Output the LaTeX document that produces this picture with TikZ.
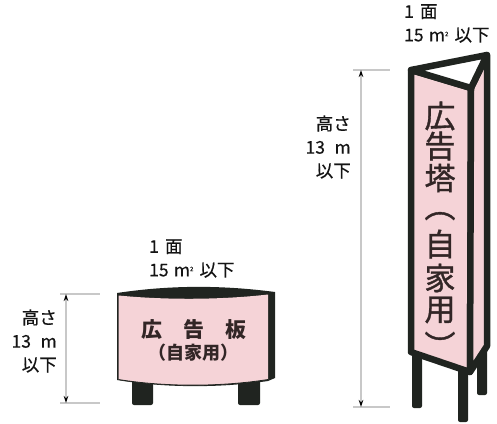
\documentclass[tikz,border=0pt]{standalone}
\usepackage{fontspec}
\newfontfamily\jp{Noto Sans CJK JP}
\newfontfamily\jptower[FakeBold=1.2]{Noto Sans CJK JP}
\newfontfamily\jplbl[FakeBold=0.4]{Noto Sans CJK JP}
\usetikzlibrary{arrows.meta}
\definecolor{signpink}{RGB}{245,211,215}
\definecolor{signdark}{RGB}{32,36,32}
\definecolor{dimgrey}{RGB}{200,200,200}
\definecolor{txtdark}{RGB}{50,38,38}
\definecolor{lbltxt}{RGB}{20,20,20}
\begin{document}
\begin{tikzpicture}[x=1pt,y=-1pt,
  lbl/.style={font=\jplbl\fontsize{17.5}{23.5}\selectfont, text=lbltxt, inner sep=0pt},
  dimline/.style={draw=dimgrey, line width=1.6pt,
    {Stealth[length=7pt,width=4.5pt,color=black]}-{Stealth[length=7pt,width=4.5pt,color=black]}},
  tickline/.style={draw=dimgrey, line width=1.3pt},
  darkpart/.style={fill=signdark},
  facepart/.style={fill=signpink, draw=signdark, line width=6.5pt, line join=round},
  toppart/.style={fill=white, draw=signdark, line width=6.5pt, line join=round},
  towerchar/.style={font=\jptower\fontsize{31}{31}\selectfont, text=txtdark, inner sep=0pt},
  boardtxt/.style={font=\jp\bfseries\fontsize{21}{21}\selectfont, text=txtdark, inner sep=0pt},
  boardsub/.style={font=\jp\bfseries\fontsize{18}{18}\selectfont, text=txtdark, inner sep=0pt}
]
\useasboundingbox (0,0) rectangle (497,423);

% ---------- left billboard ----------
\fill[darkpart, rounded corners=2pt] (132,372) rectangle (153,405);
\fill[darkpart, rounded corners=2pt] (238,372) rectangle (260,405);
\fill[darkpart] (117,293) .. controls (170,285) and (222,285) .. (275,292)
  -- (275,378) -- (268,381) .. controls (220,388) and (165,388) .. (117,380) -- cycle;
\fill[signpink] (118.5,295.5) .. controls (165,300) and (220,300) .. (268,294.5)
  -- (268,379.5) .. controls (220,387) and (165,387) .. (118.5,379.5) -- cycle;
\draw[signdark, line width=0.8pt] (118.5,379.5) .. controls (165,387) and (220,387) .. (268,379.5);

\node[boardtxt] (bt1) at (194,330) {広　告　板};
\node[boardsub] (bt2) at (193,353) {（自家用）};

% left dimension
\coordinate (la) at (60,294); \coordinate (lb) at (100,294);
\coordinate (lc) at (60,403); \coordinate (ld) at (100,403);
\coordinate (ltop) at (66,294); \coordinate (lbot) at (66,403);
\draw[tickline] (la) -- (lb);
\draw[tickline] (lc) -- (ld);
\draw[dimline] (ltop) -- (lbot);
\node[lbl, align=right, anchor=east] (lh) at (57,341) {高さ\\13\hspace{0.55em}m\\以下};
\node[lbl, align=left, anchor=west] (la1) at (149,258.5) {1\hspace{0.35em}面\\15\hspace{0.3em}m\raisebox{0.55ex}{\fontsize{6}{6}\selectfont 2}\hspace{0.35em}以下};

% ---------- right tower ----------
\fill[darkpart, rounded corners=2pt] (412,340) rectangle (422,408);
\fill[darkpart, rounded corners=2pt] (458,360) rectangle (468,422);
\fill[darkpart, rounded corners=2pt] (477,335) rectangle (487,395);

\coordinate (L) at (411,70);
\coordinate (B) at (487,55);
\coordinate (F) at (471,88);
\coordinate (Lb) at (411,352);
\coordinate (Fb) at (470,372);
\coordinate (Bb) at (487,346);
\path[facepart] (L) -- (F) -- (Fb) -- (Lb) -- cycle;
\path[facepart] (F) -- (B) -- (Bb) -- (Fb) -- cycle;
\path[toppart] (L) -- (B) -- (F) -- cycle;

\node[towerchar] (c1) at (440,116) {広};
\node[towerchar] (c2) at (440,146) {告};
\node[towerchar] (c3) at (440,178) {塔};
\node[towerchar, rotate=-90] (c4) at (440,206) {（};
\node[towerchar] (c5) at (440,244) {自};
\node[towerchar] (c6) at (440,278) {家};
\node[towerchar] (c7) at (440,310) {用};
\node[towerchar, rotate=-90] (c8) at (440,346) {）};

% right dimension
\coordinate (ra) at (353,70); \coordinate (rb) at (390,70);
\coordinate (rc) at (353,407); \coordinate (rd) at (390,407);
\coordinate (rtop) at (361,70); \coordinate (rbot) at (361,407);
\draw[tickline] (ra) -- (rb);
\draw[tickline] (rc) -- (rd);
\draw[dimline] (rtop) -- (rbot);
\node[lbl, align=right, anchor=east] (rh) at (351,147) {高さ\\13\hspace{0.55em}m\\以下};
\node[lbl, align=left, anchor=west] (ra1) at (404,23.5) {1\hspace{0.35em}面\\15\hspace{0.3em}m\raisebox{0.55ex}{\fontsize{6}{6}\selectfont 2}\hspace{0.35em}以下};
\end{tikzpicture}
\end{document}
